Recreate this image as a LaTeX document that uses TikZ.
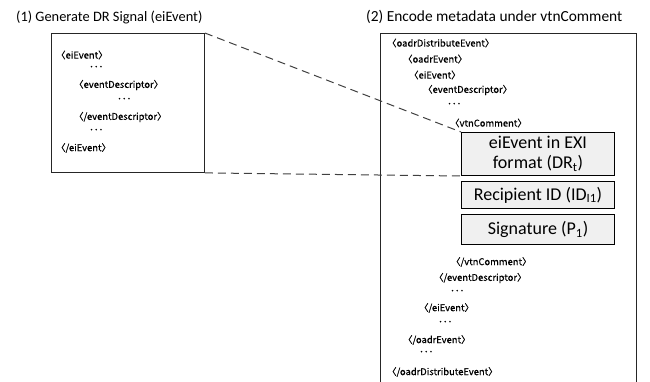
\documentclass[tikz,border=0pt]{standalone}
\usepackage{fontspec}
\setmainfont{Carlito}
\newfontfamily\xmlfont[FakeBold=0.4]{Noto Sans CJK JP}
\usetikzlibrary{positioning}
\tikzset{
  title/.style={font=\fontsize{14.4}{17}\selectfont, inner sep=0pt, anchor=west},
  xml/.style={font=\xmlfont\fontsize{9.4}{11}\selectfont, inner sep=0pt, anchor=west},
  frame/.style={draw=black!85, line width=0.9pt, inner sep=0pt, anchor=north west},
  field/.style={draw=black, line width=1pt, fill=black!6, inner sep=0pt, minimum width=153pt,
    font=\fontsize{18}{20}\selectfont, align=center},
  zoomline/.style={draw=black!75, dash pattern=on 8pt off 5pt, line width=1pt}
}

\begin{document}
\begin{tikzpicture}[x=1pt,y=-1pt]
\useasboundingbox (0,0) rectangle (650,381);
% titles
\node[title] (gen) at (16,17) {(1) Generate DR Signal (eiEvent)};
\node[title, font=\fontsize{15.4}{18}\selectfont] (enc) at (366,17) {(2) Encode metadata under vtnComment};

% frames
\node[frame, minimum width=153pt, minimum height=139pt] (src) at (51,33) {};
\node[frame, minimum width=256pt, minimum height=360pt] (dst) at (380,33) {};

% metadata fields
\node[field, minimum height=43pt, anchor=north west] (exi) at (461,132) {eiEvent in EXI\\format (DR\textsubscript{t})};
\node[field, minimum height=27pt, below=5pt of exi] (rid) {Recipient ID (ID\textsubscript{I1})};
\node[field, minimum height=30pt, below=5pt of rid] (sig) {Signature (P\textsubscript{1})};

% eiEvent
\node[xml] (s1) at (56,55) {〈eiEvent〉};
\node[xml] (s2) at (89,68) {･･･};
\node[xml] (s3) at (74,85) {〈eventDescriptor〉};
\node[xml] (s4) at (117,100) {･･･};
\node[xml] (s5) at (74,117) {〈/eventDescriptor〉};
\node[xml] (s6) at (89,131) {･･･};
\node[xml] (s7) at (56,148) {〈/eiEvent〉};

% oadrDistributeEvent
\node[xml] (d1) at (387,43) {〈oadrDistributeEvent〉};
\node[xml] (d2) at (403,59) {〈oadrEvent〉};
\node[xml] (d3) at (409,75) {〈eiEvent〉};
\node[xml] (d4) at (423,90) {〈eventDescriptor〉};
\node[xml] (d5) at (447,105) {･･･};
\node[xml] (d6) at (450,123) {〈vtnComment〉};
\node[xml] (d7) at (451,262) {〈/vtnComment〉};
\node[xml] (d8) at (434,278) {〈/eventDescriptor〉};
\node[xml] (d9) at (450,292) {･･･};
\node[xml] (d10) at (419,308) {〈/eiEvent〉};
\node[xml] (d11) at (438,323) {･･･};
\node[xml] (d12) at (403,340) {〈/oadrEvent〉};
\node[xml] (d13) at (419,353) {･･･};
\node[xml] (d14) at (387,372) {〈/oadrDistributeEvent〉};

% zoom lines
\draw[zoomline] (src.north east) -- (exi.north west);
\draw[zoomline] (src.south east) -- (exi.south west);
\end{tikzpicture}
\end{document}
